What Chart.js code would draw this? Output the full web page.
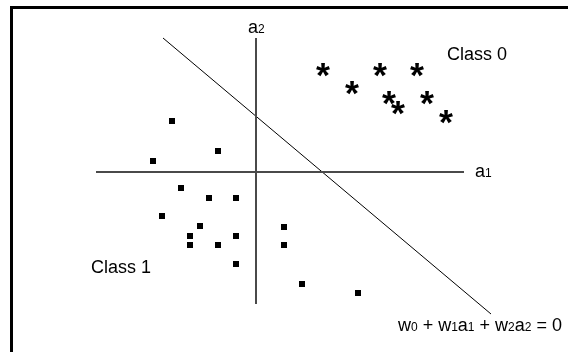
<!DOCTYPE html>
<html><head><meta charset="utf-8">
<script src="https://cdn.jsdelivr.net/npm/chart.js@4"></script>
<style>html,body{margin:0;padding:0;background:#fff;} canvas{display:block;}</style>
</head><body>
<canvas id="c" width="568" height="352"></canvas>
<script>
// Class 0 (asterisks) in a1/a2 units
const class0A1 = [6.7, 9.6, 12.4, 16.1, 13.3, 14.2, 17.1, 19.0];
const class0A2 = [10.2, 8.4, 10.2, 10.2, 7.4, 6.4, 7.4, 5.5];
// Class 1 (squares)
const class1A1 = [-8.4, -3.8, -10.3, -7.5, -4.7, -2.0, -9.4, -5.6, -6.6, -2.0, -6.6, -3.8, -2.0, 2.8, 2.8, 4.6, 10.2];
const class1A2 = [5.1, 2.1, 1.1, -1.6, -2.6, -2.6, -4.4, -5.4, -6.4, -6.4, -7.3, -7.3, -9.2, -5.5, -7.3, -11.2, -12.1];
// decision boundary end points
const boundaryA1 = [-9.3, 23.5];
const boundaryA2 = [13.4, -14.2];
// axis extents
const axisA1 = [-16, 20.8];
const axisA2 = [-13.2, 13.4];

const toPts = (xs, ys) => xs.map((v, i) => ({x: v, y: ys[i]}));

function makeStar() {
  const c = document.createElement('canvas');
  c.width = 24; c.height = 24;
  const x = c.getContext('2d');
  const fam = '"Liberation Sans", Arial, sans-serif';
  x.font = 'bold 100px ' + fam;
  let m = x.measureText('*');
  const w100 = m.actualBoundingBoxLeft + m.actualBoundingBoxRight;
  const size = 100 * 14 / w100;
  x.font = 'bold ' + size + 'px ' + fam;
  x.textAlign = 'left'; x.textBaseline = 'alphabetic';
  m = x.measureText('*');
  const gx = 12 - (m.actualBoundingBoxRight - m.actualBoundingBoxLeft) / 2;
  const gy = 12 + (m.actualBoundingBoxAscent - m.actualBoundingBoxDescent) / 2;
  x.fillStyle = '#000';
  x.fillText('*', gx, gy);
  return c;
}

const labels = [
  {parts: [['a', 0], ['1', 1]], a1: 21.9, a2: 0},
  {parts: [['a', 0], ['2', 1]], a1: -0.8, a2: 14.4},
  {parts: [['Class 0', 0]], a1: 19.1, a2: 11.7},
  {parts: [['Class 1', 0]], a1: -16.5, a2: -9.6},
  {parts: [['w', 0], ['0', 1], [' + w', 0], ['1', 1], ['a', 0], ['1', 1], [' + w', 0], ['2', 1], ['a', 0], ['2', 1], [' = 0', 0]], a1: 14.2, a2: -15.4}
];

const decor = {
  id: 'decor',
  afterDraw(chart) {
    const ctx = chart.ctx;
    const xs = chart.scales.x, ys = chart.scales.y;
    ctx.save();
    // frame (left and top edges)
    ctx.strokeStyle = '#000';
    ctx.lineWidth = 3;
    ctx.beginPath();
    ctx.moveTo(11.5, 352); ctx.lineTo(11.5, 7.5); ctx.lineTo(568, 7.5);
    ctx.stroke();
    const fam = '"Liberation Sans", Arial, sans-serif';
    ctx.fillStyle = '#000';
    ctx.textBaseline = 'middle';
    ctx.textAlign = 'left';
    for (const l of labels) {
      let px = xs.getPixelForValue(l.a1);
      const py = ys.getPixelForValue(l.a2);
      for (const [t, sub] of l.parts) {
        ctx.font = (sub ? '12px ' : '18px ') + fam;
        ctx.fillText(t, px, py + (sub ? 2 : 0));
        px += ctx.measureText(t).width;
      }
    }
    ctx.restore();
  }
};

new Chart(document.getElementById('c'), {
  type: 'scatter',
  data: {
    datasets: [
      {data: [{x: axisA1[0], y: 0}, {x: axisA1[1], y: 0}], showLine: true, borderColor: '#4a4a4a', borderWidth: 2, pointRadius: 0},
      {data: [{x: 0, y: axisA2[0]}, {x: 0, y: axisA2[1]}], showLine: true, borderColor: '#4a4a4a', borderWidth: 2, pointRadius: 0},
      {data: toPts(boundaryA1, boundaryA2), showLine: true, borderColor: '#000', borderWidth: 1, pointRadius: 0},
      {data: toPts(class1A1, class1A2), pointStyle: 'rect', pointRadius: 4.25, backgroundColor: '#000', borderWidth: 0},
      {data: toPts(class0A1, class0A2), pointStyle: makeStar(), pointRadius: 7}
    ]
  },
  options: {
    responsive: false,
    animation: false,
    devicePixelRatio: 1,
    layout: {padding: 0, autoPadding: false},
    plugins: {legend: {display: false}, tooltip: {enabled: false}},
    scales: {
      x: {type: 'linear', display: false, min: -25.6, max: 31.2},
      y: {type: 'linear', display: false, min: -18, max: 17.2}
    }
  },
  plugins: [decor]
});
</script>
</body></html>
